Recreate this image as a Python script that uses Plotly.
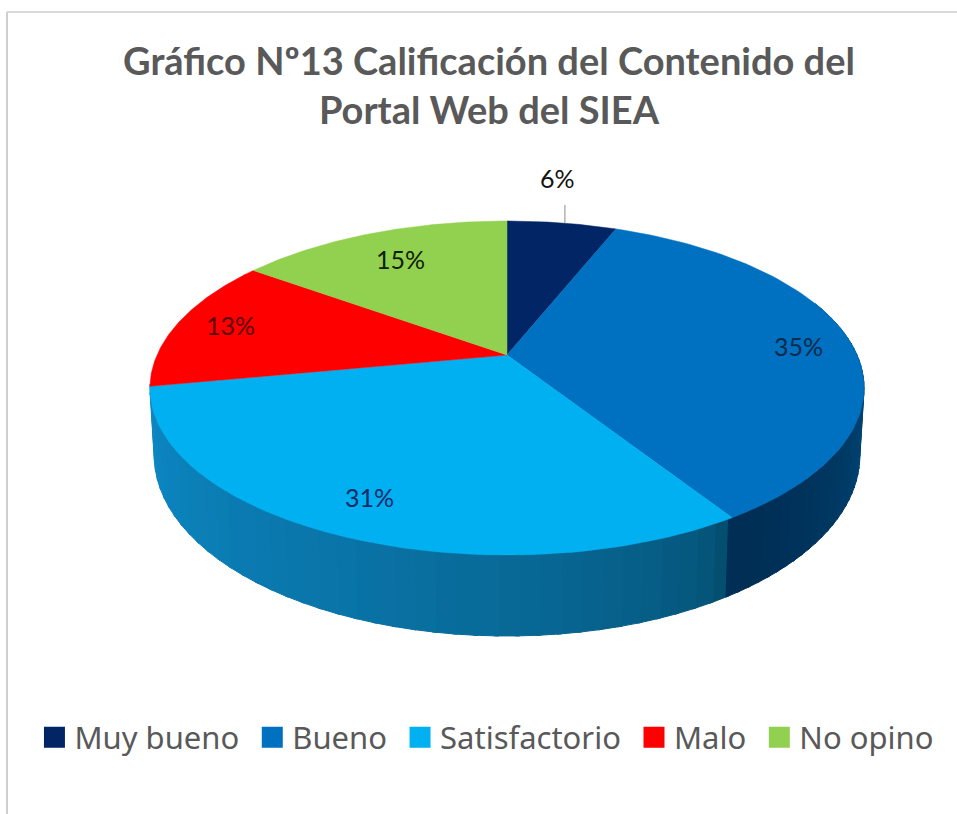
import numpy as np
import plotly.graph_objects as go

# ---- data ----
categories = ["Muy bueno", "Bueno", "Satisfactorio", "Malo", "No opino"]
values = [6, 35, 31, 13, 15]
labels = ["6%", "35%", "31%", "13%", "15%"]
title_lines = ["Gráfico Nº13 Calificación del Contenido del", "Portal Web del SIEA"]

# ---- styles ----
top_colors = ["#022565", "#0070C0", "#00B0F0", "#FF0000", "#92D050"]
wall_dark = {1: (0, 46, 84), 2: (4, 78, 112)}
wall_light = {1: (0, 92, 150), 2: (12, 136, 196)}
wall_gamma = {1: 1.3, 2: 0.6}
label_r = [1.33, 0.85, 0.84, 0.84, 0.76]
label_shift = [-19, 0, 0, 0, 0]
label_yshift = [10, -4, 4, 2, 0]
label_colors = ["#111111", "#0b2a4a", "#0b2a6a", "#5a0000", "#102000"]

CX, CY, A, B, K, D = 507.0, 355.0, 350.0, 160.5, 0.1976, 65.0


def project(theta_deg, r=1.0, drop=0.0):
    """Map a polar pie position (0 deg = top, clockwise) to the tilted view."""
    t = np.radians(theta_deg)
    u, v = r * np.sin(t), r * np.cos(t)
    w = 1 + K * v
    shrink = 1 - 0.012 * drop
    return CX + A * u / w * shrink, CY - B * v / w + drop * D / w


total = sum(values)
edges = np.cumsum([0] + values) / total * 360.0
fig = go.Figure()

# side wall, drawn as narrow shaded strips
for i in (2, 1):
    a_start = max(edges[i], 70.0)
    steps = np.linspace(a_start, edges[i + 1], 41)
    for j in range(len(steps) - 1):
        th = np.linspace(steps[j], steps[j + 1] + 0.6, 4)
        xt, yt = project(th)
        xb, yb = project(th, drop=1.0)
        f = j / (len(steps) - 2)
        if i == 1:
            f = 1 - f
        f = f ** wall_gamma[i]
        col = tuple(int(round(p + (q - p) * f)) for p, q in zip(wall_dark[i], wall_light[i]))
        fig.add_trace(go.Scatter(
            x=np.r_[xt, xb[::-1]], y=np.r_[yt, yb[::-1]], mode="lines",
            fill="toself", fillcolor="rgb(%d,%d,%d)" % col,
            line=dict(width=1, color="rgb(%d,%d,%d)" % col),
            hoverinfo="skip", showlegend=False))

# top faces
for i, name in enumerate(categories):
    th = np.linspace(edges[i], edges[i + 1], 90)
    xs, ys = project(th)
    fig.add_trace(go.Scatter(
        x=np.r_[CX, xs, CX], y=np.r_[CY, ys, CY], mode="lines", fill="toself",
        fillcolor=top_colors[i], line=dict(width=0.5, color=top_colors[i]),
        hoverinfo="skip", showlegend=False))

# leader line for the first label
mid0 = (edges[0] + edges[1]) / 2
lx, ly = project(mid0)
fig.add_trace(go.Scatter(x=[lx + 3, lx + 3], y=[ly, ly - 18], mode="lines",
                         line=dict(color="#8c8c8c", width=1),
                         hoverinfo="skip", showlegend=False))

# legend entries
for i, name in enumerate(categories):
    fig.add_trace(go.Scatter(
        x=[None], y=[None], mode="markers", name=name + "\u00a0",
        marker=dict(symbol="square", size=16, color=top_colors[i],
                    line=dict(width=5, color=top_colors[i]))))

# percentage labels
anns = []
for i, lab in enumerate(labels):
    mid = (edges[i] + edges[i + 1]) / 2
    x, y = project(mid, r=label_r[i])
    anns.append(dict(x=x, y=y, text=lab, showarrow=False, xshift=label_shift[i],
                     yshift=label_yshift[i],
                     font=dict(family="Lato, Liberation Sans", size=25, color=label_colors[i])))

fig.update_layout(
    width=957, height=814, margin=dict(l=0, r=0, t=0, b=0),
    paper_bgcolor="white", plot_bgcolor="white",
    xaxis=dict(range=[0, 957], visible=False, fixedrange=True),
    yaxis=dict(range=[814, 0], visible=False, fixedrange=True),
    title=dict(text="<b>" + "<br>".join(title_lines) + "</b>", x=0.511, xanchor="center",
               y=0.908, yanchor="top", font=dict(family="Lato", size=38, color="#595959")),
    legend=dict(orientation="h", x=0.036, xanchor="left", y=0.094, yanchor="middle",
                font=dict(family="Noto Sans", size=31, color="#595959"),
                itemwidth=30, bgcolor="rgba(0,0,0,0)"),
    annotations=anns,
    shapes=[
        dict(type="line", xref="paper", yref="paper", x0=7 / 957, x1=1, y0=1 - 12 / 814, y1=1 - 12 / 814,
             line=dict(color="#d9d9d9", width=2)),
        dict(type="line", xref="paper", yref="paper", x0=7 / 957, x1=7 / 957, y0=0, y1=1 - 12 / 814,
             line=dict(color="#cfcfcf", width=2)),
    ],
)
fig.write_html("out.html", post_script="document.body.style.margin='0';",
               config={"displayModeBar": False})
